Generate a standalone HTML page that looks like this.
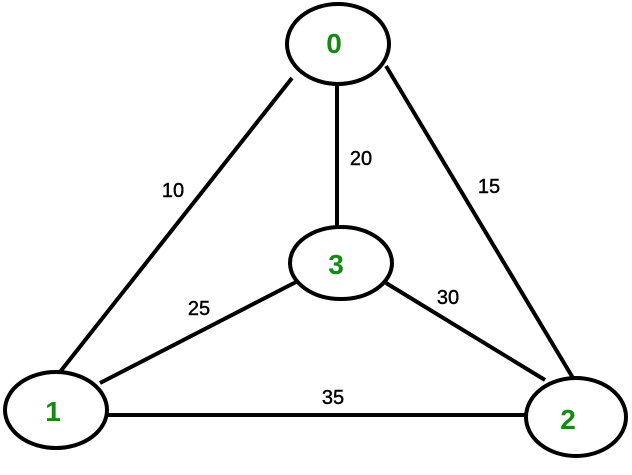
<!DOCTYPE html>
<html><head><style>html,body{margin:0;padding:0;background:#fff}</style></head>
<body>
<svg width="632" height="475" xmlns="http://www.w3.org/2000/svg" style="display:block">
<g stroke="#000" stroke-width="4" fill="none">
<line x1="292" y1="78" x2="60" y2="372"/>
<line x1="337" y1="84" x2="337" y2="228"/>
<line x1="386" y1="66" x2="573" y2="378"/>
<line x1="296" y1="282" x2="100" y2="383"/>
<line x1="386" y1="283" x2="545" y2="380"/>
<line x1="106" y1="415" x2="528" y2="415"/>
<ellipse cx="338" cy="44" rx="51" ry="40" fill="#fff"/>
<ellipse cx="341" cy="263" rx="51" ry="36" fill="#fff"/>
<ellipse cx="56" cy="410" rx="51" ry="38" fill="#fff"/>
<ellipse cx="576" cy="417" rx="50" ry="39" fill="#fff"/>
</g>
<g font-family="Liberation Sans, sans-serif" font-weight="bold" font-size="28" fill="#138a13" text-anchor="middle">
<text x="334" y="53">0</text>
<text x="336" y="274">3</text>
<text x="53" y="421">1</text>
<text x="568" y="429">2</text>
</g>
<g font-family="Liberation Sans, sans-serif" font-size="20" fill="#000" text-anchor="middle" stroke="#000" stroke-width="0.4">
<text x="173" y="197">10</text>
<text x="361" y="165">20</text>
<text x="489" y="193">15</text>
<text x="199" y="315">25</text>
<text x="448" y="304">30</text>
<text x="333" y="404">35</text>
</g>
</svg>
</body></html>
